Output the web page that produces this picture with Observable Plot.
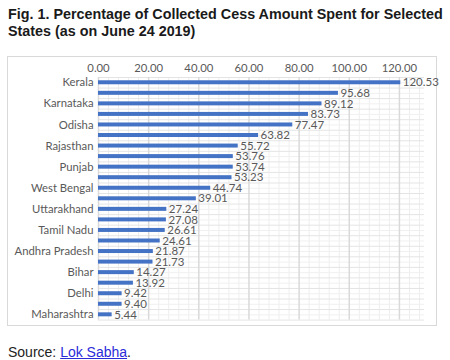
<!DOCTYPE html>
<html><head><meta charset="utf-8">
<script src="https://cdn.jsdelivr.net/npm/d3@7"></script>
<script src="https://cdn.jsdelivr.net/npm/@observablehq/plot@0.6"></script>
<style>
body{margin:0;width:450px;height:360px;position:relative;background:#fff;font-family:"Liberation Sans",Arial,sans-serif;overflow:hidden;}
#title{position:absolute;left:8px;top:6px;font-weight:bold;font-size:14.35px;line-height:17px;color:#1a1a1a;white-space:nowrap;}
#frame{position:absolute;left:7px;top:56px;width:428px;height:268px;border:1px solid #d9d9d9;}
#chart{position:absolute;left:0;top:56px;}
#source{position:absolute;left:8px;top:344px;font-size:14px;color:#222;}
#source a{color:#2b2bd9;text-decoration:underline;}
</style>
</head><body>
<div id="title">Fig. 1. Percentage of Collected Cess Amount Spent for Selected<br>States (as on June 24 2019)</div>
<div id="frame"></div>
<div id="chart"></div>
<div id="source">Source: <a href="#">Lok Sabha</a>.</div>
<script>
const states = ["Kerala","Mizoram","Karnataka","Chhattisgarh","Odisha","Gujarat","Rajasthan","Haryana","Punjab","Madhya Pradesh","West Bengal","Telangana","Uttarakhand","Himachal Pradesh","Tamil Nadu","Jharkhand","Andhra Pradesh","Goa","Bihar","Assam","Delhi","Uttar Pradesh","Maharashtra"];
const values = [120.53,95.68,89.12,83.73,77.47,63.82,55.72,53.76,53.74,53.23,44.74,39.01,27.24,27.08,26.61,24.61,21.87,21.73,14.27,13.92,9.42,9.40,5.44];
const shownLabels = ["Kerala","Karnataka","Odisha","Rajasthan","Punjab","West Bengal","Uttarakhand","Tamil Nadu","Andhra Pradesh","Bihar","Delhi","Maharashtra"];
const xTicks = [0,20,40,60,80,100,120];

const data = states.map((s,i)=>({state:s, value:values[i]}));
const shown = new Set(shownLabels);
const W = 450, H = 270, mt = 21, mb = 6.4;
const band = (H - mt - mb) / states.length;
const minor = d3.range(0,129,4).filter(v => v % 20 !== 0);
const fmt = d3.format(".2f");

const chart = Plot.plot({
  width: W, height: H,
  marginTop: mt, marginBottom: mb, marginLeft: 98, marginRight: 26,
  style: {fontFamily: "Lato, sans-serif", fontSize: "11.3px", color: "#595959", background: "transparent"},
  x: {domain: [0,130], axis: "top", ticks: xTicks, tickFormat: fmt, tickSize: 0, tickPadding: 6, label: null},
  y: {domain: states, padding: 0, round: false, tickSize: 0, tickPadding: 5, tickFormat: d => shown.has(d) ? d : "", label: null},
  marks: [
    Plot.ruleX(minor, {stroke: "#eeeeee"}),
    Plot.ruleY(states, {y: d => d, stroke: "#f0f0f0"}),
    Plot.ruleY(states, {y: d => d, dy: -band/2, stroke: "#e4e4e4"}),
    Plot.ruleY([states[states.length-1]], {y: d => d, dy: band/2, stroke: "#e4e4e4"}),
    Plot.ruleX(xTicks, {stroke: "#d9d9d9", strokeWidth: 1.5}),
    Plot.barX(data, {x: "value", y: "state", fill: "#4472C4", insetTop: band/2 - 2, insetBottom: band/2 - 2}),
    Plot.text(data, {x: "value", y: "state", text: d => fmt(d.value), dx: 2, textAnchor: "start", fill: "#595959", fontSize: 11.5})
  ]
});
document.getElementById("chart").appendChild(chart);
</script>
</body></html>
